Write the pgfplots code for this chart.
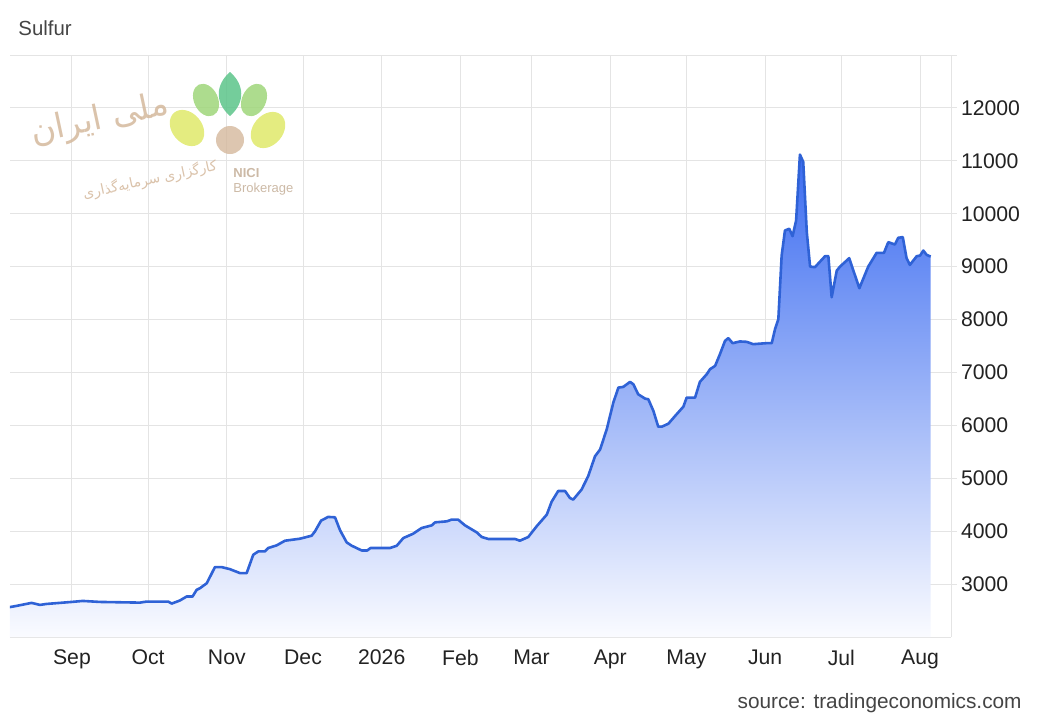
\documentclass[border=0pt]{standalone}
\usepackage{fontspec}
\setmainfont{Liberation Sans}
\newfontfamily\arabicfont[Script=Arabic]{DejaVu Sans}
\TeXXeTstate=1
\usepackage{pgfplots}
\pgfplotsset{compat=1.18}
\usepackage{pgfplotstable}
\definecolor{lineblue}{HTML}{2F62D6}
\definecolor{filltop}{HTML}{3C6CF0}
\definecolor{fillmid}{HTML}{88A7F7}
\definecolor{fillbot}{HTML}{FAFBFF}
\definecolor{gridgray}{HTML}{E4E4E4}
\definecolor{tickblack}{HTML}{222222}
\definecolor{titlegray}{HTML}{444444}
\definecolor{tan}{HTML}{D4B89C}
\definecolor{petalyellow}{HTML}{DFE96A}
\definecolor{petallight}{HTML}{9FD67A}
\definecolor{petaldark}{HTML}{5CC48A}

\pgfplotstableread{
day price
-24.8 2563
-21.8 2588
-15.9 2645
-12.6 2607
-10.0 2625
-0.1 2663
4.3 2682
11.0 2663
26.8 2650
29.4 2670
37.9 2670
39.3 2632
42.5 2690
45.2 2766
47.5 2766
49.1 2891
50.4 2922
53.1 3017
56.3 3321
59.0 3321
62.2 3283
66.2 3207
68.8 3207
71.4 3555
73.4 3618
76.0 3618
77.3 3682
80.6 3732
83.9 3820
89.8 3858
94.4 3915
95.7 3996
98.1 4199
100.9 4270
103.6 4262
105.6 4016
108.2 3788
110.2 3725
114.1 3636
116.3 3636
117.6 3682
125.2 3682
127.9 3725
130.5 3870
134.4 3953
137.7 4060
141.7 4110
143.0 4167
147.6 4186
149.5 4218
152.1 4218
154.8 4110
159.4 3978
161.4 3890
164.0 3853
174.5 3853
176.4 3820
179.7 3890
183.0 4092
187.0 4313
188.9 4556
191.5 4760
194.2 4760
196.1 4629
197.4 4597
200.7 4787
203.3 5039
206.0 5417
208.0 5545
210.6 5924
213.2 6430
215.2 6714
217.1 6727
219.8 6822
221.1 6777
223.0 6588
225.7 6506
227.0 6493
229.0 6272
230.9 5975
232.3 5975
234.9 6032
237.5 6176
240.8 6354
242.1 6525
245.4 6525
247.3 6822
250.0 6967
251.3 7062
253.3 7125
255.2 7346
257.2 7598
258.5 7649
260.2 7554
263.1 7586
265.7 7579
268.3 7535
273.6 7554
275.6 7554
276.9 7820
278.2 8009
279.5 9209
280.8 9683
282.5 9716
283.8 9576
285.2 9873
286.7 11118
288.0 10980
289.4 9653
290.7 9001
292.6 8990
296.6 9198
297.9 9198
299.2 8421
301.2 8925
302.5 9001
306.1 9160
310.1 8592
313.6 9001
316.9 9261
319.8 9261
321.5 9463
324.1 9418
325.4 9545
327.2 9558
328.7 9160
330.0 9033
332.7 9198
334.0 9209
335.3 9304
336.6 9223
338.2 9190
}\sulfur

\begin{document}
\begin{tikzpicture}
\path[use as bounding box] (0,0) rectangle (521pt,360pt);
\begin{axis}[
  at={(5pt,41.5pt)}, anchor=south west,
  scale only axis, width=470.5pt, height=291pt,
  xmin=-24.4, xmax=346.2, ymin=2000, ymax=13000,
  axis x line*=bottom, axis y line*=right,
  axis line style={draw=gridgray, line width=0.5pt},
  xtick={0,30,61,91,122,153,181,212,242,273,303,334},
  xticklabels={Sep,Oct,Nov,Dec,2026,Feb,Mar,Apr,May,Jun,Jul,Aug},
  ytick={3000,4000,...,12000},
  extra y ticks={13000}, extra y tick labels={},
  grid=major, major grid style={gridgray, line width=0.5pt},
  x tick style={draw=none},
  y tick style={gridgray, line width=0.5pt},
  tick align=outside, major tick length=3pt,
  ticklabel style={font=\fontsize{10.6}{12}\selectfont, text=tickblack},
  y tick label style={xshift=-1.5pt},
  /pgf/number format/assume math mode=true,
  /pgf/number format/1000 sep={},
  scaled y ticks=false,
]
\addplot[draw=none, top color=filltop, middle color=fillmid, bottom color=fillbot, forget plot]
  table[x=day, y=price] {\sulfur} |- (axis cs:-24.8,2000) -- cycle;
\addplot[lineblue, line width=1.3pt, line join=round] table[x=day, y=price] {\sulfur};
\end{axis}

% watermark logo
\begin{scope}[opacity=0.85]
\fill[tan, opacity=0.8] (115pt,290pt) circle (7pt);
\fill[petalyellow, opacity=0.85, rotate around={40:(93.5pt,296pt)}] (93.5pt,296pt) ellipse (7.5pt and 10pt);
\fill[petalyellow, opacity=0.85, rotate around={-40:(134pt,295pt)}] (134pt,295pt) ellipse (7.5pt and 10pt);
\fill[petallight, opacity=0.85, rotate around={25:(103pt,310pt)}] (103pt,310pt) ellipse (6pt and 8.5pt);
\fill[petallight, opacity=0.85, rotate around={-25:(127pt,310pt)}] (127pt,310pt) ellipse (6pt and 8.5pt);
\fill[petaldark, opacity=0.85] (115pt,302pt) .. controls (107pt,309pt) and (108pt,318pt) .. (115pt,324pt) .. controls (122pt,318pt) and (123pt,309pt) .. (115pt,302pt);
\node[anchor=west, inner sep=0pt, text=tan!80!gray, font=\bfseries\fontsize{6.5}{7}\selectfont] at (116.5pt,273.5pt) {NICI};
\node[anchor=west, inner sep=0pt, text=tan!80!gray, font=\fontsize{6.5}{7}\selectfont] at (116.5pt,265.5pt) {Brokerage};
\node[text=tan, rotate=12, inner sep=0pt, font=\arabicfont\fontsize{17}{18}\selectfont] at (50pt,300pt) {\beginR ملی ایران\endR};
\node[text=tan, rotate=12, inner sep=0pt, font=\arabicfont\fontsize{7}{8}\selectfont] at (75pt,270pt) {\beginR کارگزاری سرمایه‌گذاری\endR};
\end{scope}

\node[anchor=west, inner sep=0pt, font=\fontsize{10.2}{12}\selectfont, text=titlegray] at (9pt,346pt) {Sulfur};
\node[anchor=east, inner sep=0pt, font=\fontsize{10.4}{12}\selectfont, text=titlegray] at (511pt,8.5pt) {source: tradingeconomics.com};
\end{tikzpicture}
\end{document}
